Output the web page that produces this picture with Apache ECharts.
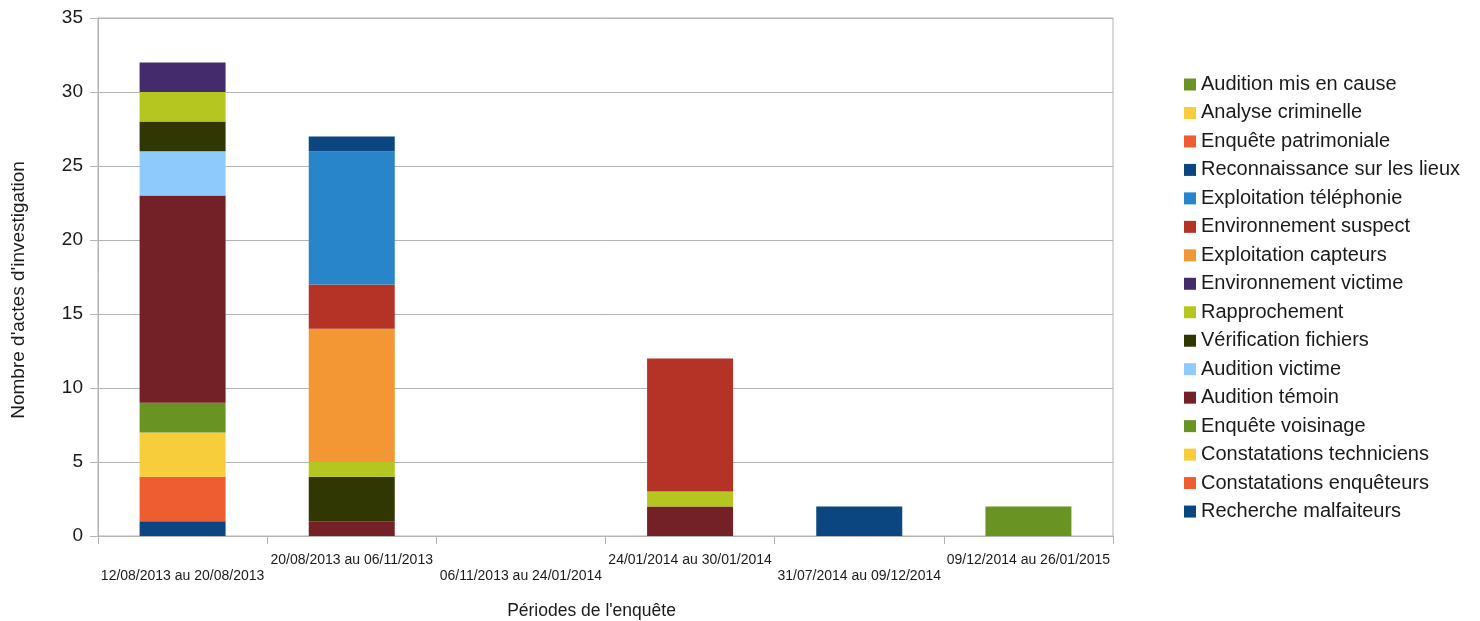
<!DOCTYPE html>
<html>
<head>
<meta charset="utf-8">
<script src="https://cdn.jsdelivr.net/npm/echarts@6/dist/echarts.min.js"></script>
<style>
html,body{margin:0;padding:0;background:#fff;}
#chart{width:1480px;height:621px;}
</style>
</head>
<body>
<div id="chart"></div>
<script>
const categories = [
  "12/08/2013 au 20/08/2013",
  "20/08/2013 au 06/11/2013",
  "06/11/2013 au 24/01/2014",
  "24/01/2014 au 30/01/2014",
  "31/07/2014 au 09/12/2014",
  "09/12/2014 au 26/01/2015"
];
const yTicks = [0, 5, 10, 15, 20, 25, 30, 35];

// Series listed bottom of stack first
const rechercheMalfaiteurs      = [1, 0, 0, 0, 0, 0];
const constatationsEnqueteurs   = [3, 0, 0, 0, 0, 0];
const constatationsTechniciens  = [3, 0, 0, 0, 0, 0];
const enqueteVoisinage          = [2, 0, 0, 0, 0, 0];
const auditionTemoin            = [14, 1, 0, 2, 0, 0];
const auditionVictime           = [3, 0, 0, 0, 0, 0];
const verificationFichiers      = [2, 3, 0, 0, 0, 0];
const rapprochement             = [2, 1, 0, 1, 0, 0];
const environnementVictime      = [2, 0, 0, 0, 0, 0];
const exploitationCapteurs      = [0, 9, 0, 0, 0, 0];
const environnementSuspect      = [0, 3, 0, 9, 0, 0];
const exploitationTelephonie    = [0, 9, 0, 0, 0, 0];
const reconnaissanceLieux       = [0, 1, 0, 0, 2, 0];
const enquetePatrimoniale       = [0, 0, 0, 0, 0, 0];
const analyseCriminelle         = [0, 0, 0, 0, 0, 0];
const auditionMisEnCause        = [0, 0, 0, 0, 0, 2];

const seriesNames = [
  "Recherche malfaiteurs", "Constatations enquêteurs", "Constatations techniciens",
  "Enquête voisinage", "Audition témoin", "Audition victime", "Vérification fichiers",
  "Rapprochement", "Environnement victime", "Exploitation capteurs", "Environnement suspect",
  "Exploitation téléphonie", "Reconnaissance sur les lieux", "Enquête patrimoniale",
  "Analyse criminelle", "Audition mis en cause"
];
const seriesValues = [
  rechercheMalfaiteurs, constatationsEnqueteurs, constatationsTechniciens,
  enqueteVoisinage, auditionTemoin, auditionVictime, verificationFichiers,
  rapprochement, environnementVictime, exploitationCapteurs, environnementSuspect,
  exploitationTelephonie, reconnaissanceLieux, enquetePatrimoniale,
  analyseCriminelle, auditionMisEnCause
];
const seriesColors = [
  "#0b4680", "#ee5d32", "#f8cd3b", "#699322", "#742027", "#8ecafc",
  "#313703", "#b4c61f", "#442b6c", "#f29733", "#b43326", "#2885c9",
  "#0b4680", "#ee5d32", "#f8cd3b", "#699322"
];

const FONT = "'Liberation Sans', Arial, sans-serif";
const TXT = "#1a1a1a";
const GRID = "#b3b3b3";

const chart = echarts.init(document.getElementById('chart'), null, {renderer: 'canvas'});
chart.setOption({
  backgroundColor: '#ffffff',
  animation: false,
  textStyle: {fontFamily: FONT},
  grid: {left: 98, right: 367, top: 18, bottom: 85, show: true, borderColor: GRID, borderWidth: 1,
         containLabel: false, outerBoundsMode: 'none'},
  legend: {
    orient: 'vertical',
    left: 1179,
    top: 69.5,
    icon: 'rect',
    itemWidth: 12,
    itemHeight: 12,
    itemGap: 8.47,
    data: seriesNames.slice().reverse(),
    textStyle: {fontFamily: FONT, fontSize: 20, lineHeight: 20, color: TXT}
  },
  xAxis: {
    type: 'category',
    data: categories,
    boundaryGap: true,
    name: "Périodes de l'enquête",
    nameLocation: 'middle',
    nameGap: 66,
    nameTextStyle: {fontFamily: FONT, fontSize: 17.5, lineHeight: 18, color: TXT, padding: [0, 28, 0, 0]},
    axisLine: {lineStyle: {color: GRID, width: 1}},
    axisTick: {show: true, length: 8, lineStyle: {color: GRID}, interval: 0},
    axisLabel: {
      interval: 0, fontFamily: FONT, fontSize: 14, lineHeight: 16, color: TXT, margin: 16,
      formatter: function (v, i) { return (i % 2 === 0) ? '\n' + v : v; }
    },
    splitLine: {show: false}
  },
  yAxis: {
    type: 'value',
    min: yTicks[0],
    max: yTicks[yTicks.length - 1],
    interval: yTicks[1] - yTicks[0],
    name: "Nombre d'actes d'investigation",
    nameLocation: 'middle',
    nameGap: 70,
    nameTextStyle: {fontFamily: FONT, fontSize: 19, lineHeight: 19, color: TXT, padding: [0, 26, 0, 0]},
    axisLine: {show: true, lineStyle: {color: GRID, width: 1}},
    axisTick: {show: true, length: 8, lineStyle: {color: GRID}},
    axisLabel: {fontFamily: FONT, fontSize: 19, color: TXT, margin: 15},
    splitLine: {show: true, lineStyle: {color: GRID, width: 1}}
  },
  series: seriesNames.map(function (name, k) {
    return {
      name: name,
      type: 'bar',
      stack: 'total',
      barWidth: 86,
      data: seriesValues[k],
      itemStyle: {color: seriesColors[k]},
      emphasis: {disabled: true}
    };
  })
});
</script>
</body>
</html>
